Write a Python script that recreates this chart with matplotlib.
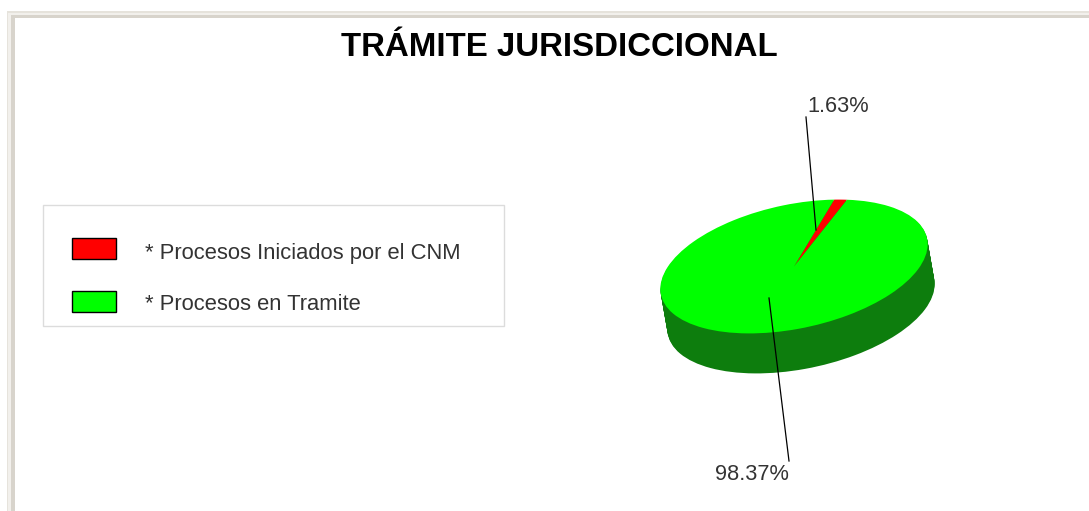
"""Recreates the TRAMITE JURISDICCIONAL tilted pie chart."""

import matplotlib

matplotlib.use("Agg")
import matplotlib.pyplot as plt
import numpy as np
from matplotlib.patches import Rectangle
from matplotlib.transforms import Affine2D

labels = ["* Procesos Iniciados por el CNM", "* Procesos en Tramite"]
values = [1.63, 98.37]
pct_labels = ["1.63%", "98.37%"]
top_colors = ["#ff0000", "#00ff00"]
side_color = "#0d7d0d"

W, H = 1089, 511
CX, CY, RX, RY, TILT = 794, 266.5, 136, 62, 12
DEPTH_X, DEPTH_Y = 7, 40
START_ANGLE = 61.1

plt.rcParams["font.family"] = ["Liberation Sans", "DejaVu Sans"]

fig = plt.figure(figsize=(W / 100, H / 100), dpi=100, facecolor="white")
ax = fig.add_axes([0, 0, 1, 1])


def tilted(dx=0.0, dy=0.0):
    return (
        Affine2D().scale(RX, -RY).rotate_deg(-TILT).translate(CX + dx, CY + dy)
        + ax.transData
    )


def draw_pie(colors, dx=0.0, dy=0.0):
    wedges, _ = ax.pie(values, colors=colors, startangle=START_ANGLE, radius=1)
    for w in wedges:
        w.set_transform(tilted(dx, dy))
        w.set_linewidth(0)
        w.set_antialiased(True)


# extrude the side by stacking the pie downwards
for t in np.linspace(1, 0.025, 40):
    draw_pie([side_color, side_color], DEPTH_X * t, DEPTH_Y * t)
draw_pie(top_colors)

ax.set_aspect("auto")
ax.set_xlim(0, W)
ax.set_ylim(H, 0)
ax.axis("off")

# page frame
ax.add_patch(Rectangle((7, 11), W, 2, fc="#e6e3dc", ec="none", zorder=4))
for x0, x1, y0, hgt, c in [(7, 8, 11, 2, "#e6e3dc"), (8, 11, 13, 2, "#f2f0ec"), (11, 15, 15, 3, "#d8d4cc")]:
    ax.add_patch(Rectangle((x0, y0), x1 - x0, H - y0, fc=c, ec="none", zorder=5))
    ax.add_patch(Rectangle((x0, y0), W - x0, hgt, fc=c, ec="none", zorder=5))

ax.text(559, 47, "TRÁMITE JURISDICCIONAL", ha="center", va="center",
        fontsize=23.75, fontweight="bold", color="black")

# legend
ax.add_patch(Rectangle((43, 205.5), 461, 120.5, fc="white", ec="#dcdcdc", lw=1, zorder=2))
for label, color, y, ty in zip(labels, top_colors, [248.5, 302], [253, 305]):
    ax.add_patch(Rectangle((72, y - 10.5), 44, 21, fc=color, ec="black", lw=1, zorder=3))
    ax.text(145, ty, label, ha="left", va="center", fontsize=15.8, color="#333333", zorder=3)

# leader lines and percentages
ax.plot([806, 816], [117, 230], color="black", lw=0.9, zorder=6)
ax.plot([769, 789], [298, 461], color="black", lw=0.9, zorder=6)
ax.text(838, 106, pct_labels[0], ha="center", va="center", fontsize=15.7, color="#333333")
ax.text(752, 474, pct_labels[1], ha="center", va="center", fontsize=15.7, color="#333333")

fig.savefig("out.png", dpi=100)
plt.close(fig)
